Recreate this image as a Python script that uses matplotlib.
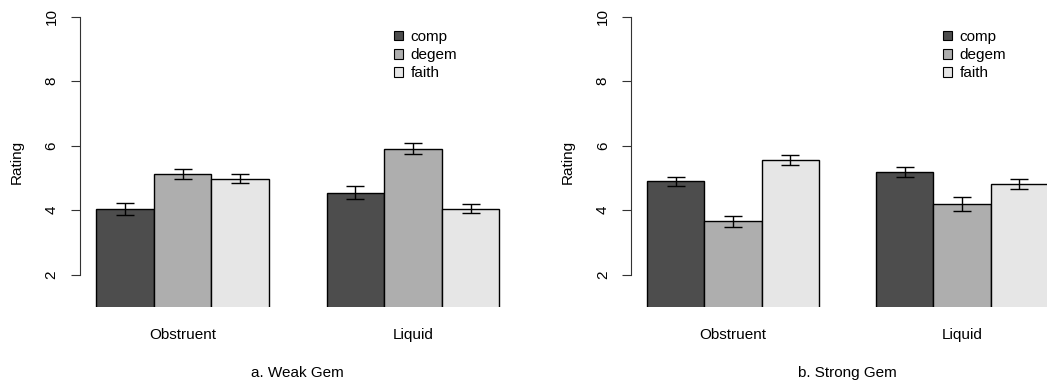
import numpy as np
import matplotlib
matplotlib.use("Agg")
import matplotlib.pyplot as plt
from matplotlib.patches import Patch
import matplotlib.transforms as mtransforms

plt.rcParams['font.family'] = ['Liberation Sans', 'DejaVu Sans']

groups = ["Obstruent", "Liquid"]
conds = ["comp", "degem", "faith"]
colors = ["#4D4D4D", "#AEAEAE", "#E6E6E6"]

# weak gem: rows = group, cols = condition
weak_mean = [[4.03, 5.12, 4.98], [4.54, 5.91, 4.05]]
weak_err = [[0.19, 0.16, 0.15], [0.20, 0.16, 0.14]]
# strong gem
strong_mean = [[4.89, 3.66, 5.55], [5.18, 4.19, 4.82]]
strong_err = [[0.15, 0.17, 0.155], [0.155, 0.21, 0.155]]

titles = ["a. Weak Gem", "b. Strong Gem"]

W, H = 1047, 383
fig = plt.figure(figsize=(W / 100, H / 100), dpi=100)

panels = [(80, 435.5, weak_mean, weak_err, titles[0]),
          (631, 433, strong_mean, strong_err, titles[1])]

for left, width, means, errs, title in panels:
    ax = fig.add_axes([left / W, (H - 307) / H, width / W, 302 / H])
    means = np.array(means)
    errs = np.array(errs)
    for g in range(len(groups)):
        for c in range(len(conds)):
            x = 1.5 + g * 4 + c
            ax.bar(x, means[g, c], width=1, color=colors[c], edgecolor="black", linewidth=1)
            ax.errorbar(x, means[g, c], yerr=errs[g, c], color="black", lw=1,
                        capsize=6.8, capthick=1)
    ax.set_xlim(0.72, 8.28)
    ax.set_ylim(1, 10.36)
    for s in ["top", "right", "bottom"]:
        ax.spines[s].set_visible(False)
    ax.spines["left"].set_bounds(2, 10)
    ax.spines["left"].set_color("#333333")
    ax.set_yticks([2, 4, 6, 8, 10])
    ax.tick_params(axis="y", length=6.3, color="#333333", labelsize=11, pad=9)
    for lab in ax.get_yticklabels():
        lab.set_rotation(90)
        lab.set_va("center")
    ax.set_xticks([])
    trans = mtransforms.blended_transform_factory(ax.transData, fig.transFigure)
    for g, name in enumerate(groups):
        ax.text(2.5 + g * 4, 1 - 335 / H, name, transform=trans, ha="center",
                va="center", fontsize=11)
    ax.text(0.5, 1 - 372.7 / H, title, transform=mtransforms.blended_transform_factory(
        ax.transAxes, fig.transFigure), ha="center", va="center", fontsize=11)
    fig.text((left - 63) / W, 1 - 162 / H, "Rating", rotation=90, ha="center",
             va="center", fontsize=11)
    handles = [Patch(facecolor=colors[i], edgecolor="black", linewidth=0.8) for i in range(3)]
    ax.legend(handles, conds, loc="upper left", bbox_to_anchor=(0.72, 0.918),
              frameon=False, fontsize=11, handlelength=0.6, handleheight=0.6,
              handletextpad=0.5, labelspacing=0.28, borderpad=0, borderaxespad=0)

fig.savefig("out.png", dpi=100)
